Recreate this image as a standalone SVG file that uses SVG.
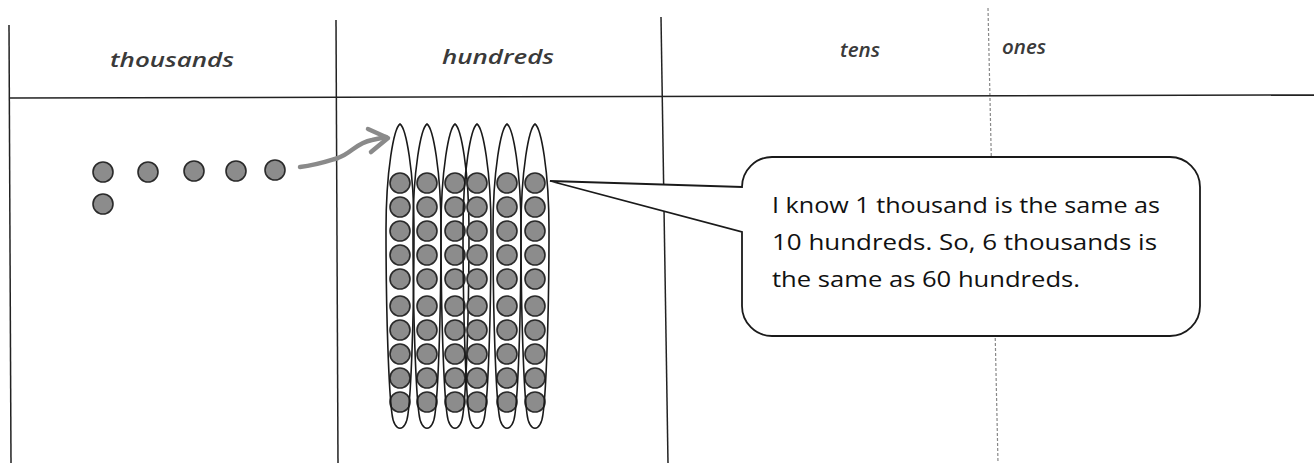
<svg xmlns="http://www.w3.org/2000/svg" xmlns:xlink="http://www.w3.org/1999/xlink" width="1314" height="463" viewBox="0 0 1314 463">
<defs>
<style>
.grid{stroke:#222;stroke-width:1.5;fill:none}
.faint{stroke:#888;stroke-width:1.2;fill:none;stroke-dasharray:3 2}
.hdr{font-family:"Open Sans","Liberation Sans",sans-serif;font-style:italic;font-weight:600;font-size:20px;fill:#3a3a3a;text-anchor:middle}
.dot{fill:#8c8c8c;stroke:#2a2a2a;stroke-width:1.6}
.oval{fill:none;stroke:#1a1a1a;stroke-width:1.6}
.say{font-family:"Open Sans","Liberation Sans",sans-serif;font-size:22px;fill:#111}
</style>
<path id="ov" d="M0,124 C6,128 14,170 14,230 C14,320 11,392 8,414 C6,433 -6,433 -8,414 C-11,392 -14,320 -14,230 C-14,170 -6,128 0,124 Z"/>
<g id="col">
<circle class="dot" cx="0" cy="183" r="10"/><circle class="dot" cx="0" cy="207" r="10"/><circle class="dot" cx="0" cy="231" r="10"/><circle class="dot" cx="0" cy="255" r="10"/><circle class="dot" cx="0" cy="279" r="10"/><circle class="dot" cx="0" cy="306" r="10"/><circle class="dot" cx="0" cy="330" r="10"/><circle class="dot" cx="0" cy="354" r="10"/><circle class="dot" cx="0" cy="378" r="10"/><circle class="dot" cx="0" cy="402" r="10"/>
</g>
</defs>
<rect width="1314" height="463" fill="#fff"/>
<g id="table">
<line class="grid" x1="9" y1="25" x2="11" y2="463"/>
<line class="grid" x1="336" y1="20" x2="338" y2="463"/>
<line class="grid" x1="661" y1="17" x2="668" y2="463"/>
<line class="faint" x1="988" y1="8" x2="998" y2="463"/>
<line class="grid" x1="9" y1="98" x2="1314" y2="95"/>
<text class="hdr" x="172" y="67" textLength="124" lengthAdjust="spacingAndGlyphs">thousands</text>
<text class="hdr" x="498" y="64" textLength="112" lengthAdjust="spacingAndGlyphs">hundreds</text>
<text class="hdr" x="860" y="57" textLength="40" lengthAdjust="spacingAndGlyphs">tens</text>
<text class="hdr" x="1024" y="54" textLength="44" lengthAdjust="spacingAndGlyphs">ones</text>
</g>
<g id="thousands-dots">
<circle class="dot" cx="103" cy="172" r="10"/>
<circle class="dot" cx="148" cy="172" r="10"/>
<circle class="dot" cx="194" cy="171" r="10"/>
<circle class="dot" cx="236" cy="171" r="10"/>
<circle class="dot" cx="275" cy="170" r="10"/>
<circle class="dot" cx="103" cy="204" r="10"/>
</g>
<g id="connectors">
<path d="M300,167 C318,165 328,161 338,158 C352,153 356,143 372,140 L386,137" fill="none" stroke="#8a8a8a" stroke-width="4.5" stroke-linecap="round"/>
<path d="M368,129 L388,138 L371,152" fill="none" stroke="#8a8a8a" stroke-width="4.5" stroke-linecap="round" stroke-linejoin="round"/>
</g>
<g id="hundreds-groups">
<g id="group1"><use xlink:href="#col" x="400"/><use xlink:href="#ov" x="400" class="oval"/></g>
<g id="group2"><use xlink:href="#col" x="427"/><use xlink:href="#ov" x="427" class="oval"/></g>
<g id="group3"><use xlink:href="#col" x="455"/><use xlink:href="#ov" x="455" class="oval"/></g>
<g id="group4"><use xlink:href="#col" x="477"/><use xlink:href="#ov" x="477" class="oval"/></g>
<g id="group5"><use xlink:href="#col" x="507"/><use xlink:href="#ov" x="507" class="oval"/></g>
<g id="group6"><use xlink:href="#col" x="535"/><use xlink:href="#ov" x="535" class="oval"/></g>
</g>
<g id="speech-bubble">
<path d="M772,157 H1170 A30,30 0 0 1 1200,187 V306 A30,30 0 0 1 1170,336 H772 A30,30 0 0 1 742,306 V232 L550,181 L742,187 A30,30 0 0 1 772,157 Z" fill="#fff" stroke="#1a1a1a" stroke-width="1.8" stroke-linejoin="miter"/>
<text class="say" x="772" y="213" textLength="388" lengthAdjust="spacingAndGlyphs">I know 1 thousand is the same as</text>
<text class="say" x="772" y="250" textLength="385" lengthAdjust="spacingAndGlyphs">10 hundreds.  So, 6 thousands is</text>
<text class="say" x="772" y="287" textLength="308" lengthAdjust="spacingAndGlyphs">the same as 60 hundreds.</text>
</g>
</svg>
